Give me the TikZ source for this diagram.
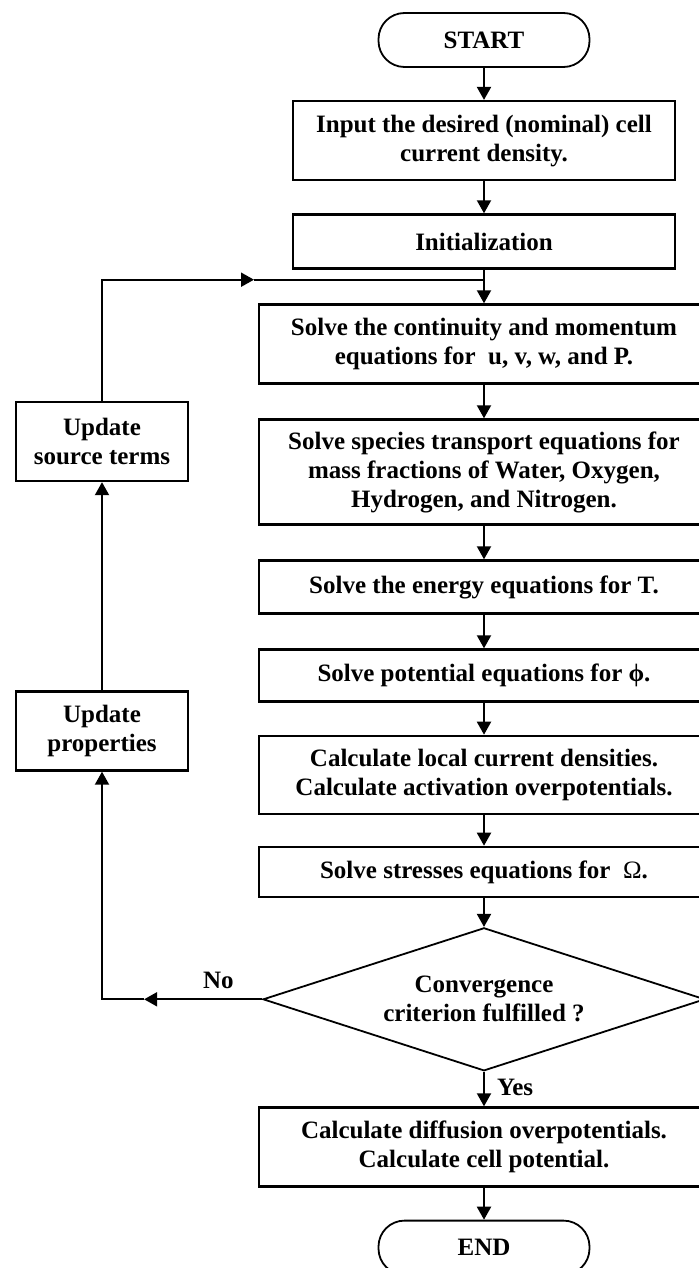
\documentclass[tikz,border=0pt]{standalone}
\usepackage{fontspec}
\setmainfont{Liberation Serif}
\usetikzlibrary{arrows.meta,positioning,shapes.geometric}

\begin{document}
\begin{tikzpicture}[x=0.5pt,y=-0.5pt,node distance=16pt]

\tikzstyle{every node}=[font=\bfseries\fontsize{12.5}{14.5}\selectfont]
\tikzstyle{process}=[draw,line width=1.2pt,minimum width=225pt,minimum height=26pt,align=center,inner sep=2pt]
\tikzstyle{narrow}=[process,minimum width=191pt]
\tikzstyle{side}=[process,minimum width=86pt,minimum height=39.5pt]
\tikzstyle{terminal}=[draw,line width=0.9pt,rounded corners=13pt,minimum width=105.5pt,minimum height=27pt]
\tikzstyle{decision}=[draw,diamond,aspect=3.1,line width=0.9pt,minimum width=221pt,minimum height=71.5pt,inner sep=0pt,align=center]
\tikzstyle{flow}=[line width=1pt,-{Triangle[length=6.5pt,width=7pt]}]
\tikzstyle{lbl}=[inner sep=1pt]

\useasboundingbox (0,0) rectangle (699,1268);
\clip (0,0) rectangle (699,1268);

%main column
\node[terminal] (start) at (484,40) {START};
\node[narrow,minimum height=39.5pt] (input) [below=of start] {Input the desired (nominal) cell\\current density.};
\node[narrow,minimum height=27pt]   (init)  [below=of input] {Initialization};
\node[process,minimum height=39.5pt] (cont) [below=16.8pt of init] {Solve the continuity and momentum\\equations for~ u, v, w, and P.};
\node[process,minimum height=52.5pt] (species) [below=16.8pt of cont] {Solve species transport equations for\\mass fractions of Water, Oxygen,\\Hydrogen, and Nitrogen.};
\node[process,minimum height=26.5pt] (energy) [below=16.8pt of species] {Solve the energy equations for T.};
\node[process]                       (potential) [below=16.8pt of energy] {Solve potential equations for ϕ.};
\node[process,minimum height=39pt]   (current) [below=of potential] {Calculate local current densities.\\Calculate activation overpotentials.};
\node[process,minimum height=25pt]   (stress) [below=15.3pt of current] {Solve stresses equations for~ \textmd{Ω}.};
\node[decision] (conv) [below=14.4pt of stress] {Convergence\\criterion fulfilled ?};
\node[process,minimum height=39.5pt] (diff) [below=17.3pt of conv] {Calculate diffusion overpotentials.\\Calculate cell potential.};
\node[terminal] (end) [below=of diff] {END};

%loop boxes
\node[side] (source) at (102,441.5) {Update\\source terms};
\node[side] (props)  at (102,731)   {Update\\properties};

\coordinate[below=5pt of init] (join);
\coordinate (loopTip) at ([xshift=-115pt]join);
\coordinate (noTip) at ([xshift=-59pt]conv.west);

%forward
\draw[flow] (start) -- (input);
\draw[flow] (input) -- (init);
\draw[flow] (init) -- (cont);
\draw[flow] (cont) -- (species);
\draw[flow] (species) -- (energy);
\draw[flow] (energy) -- (potential);
\draw[flow] (potential) -- (current);
\draw[flow] (current) -- (stress);
\draw[flow] (stress) -- (conv);
\draw[flow] (conv) -- node[lbl,right=5pt,pos=0.45] {Yes} (diff);
\draw[flow] (diff) -- (end);

%back loop
\draw[flow] (conv.west) -- node[lbl,above=4pt,pos=0.37] {No} (noTip);
\draw[flow] (noTip) -| (props.south);
\draw[flow] (props) -- (source);
\draw[flow] (source.north) |- (loopTip);
\draw[line width=1pt] (loopTip) -- (join);

\end{tikzpicture}
\end{document}
